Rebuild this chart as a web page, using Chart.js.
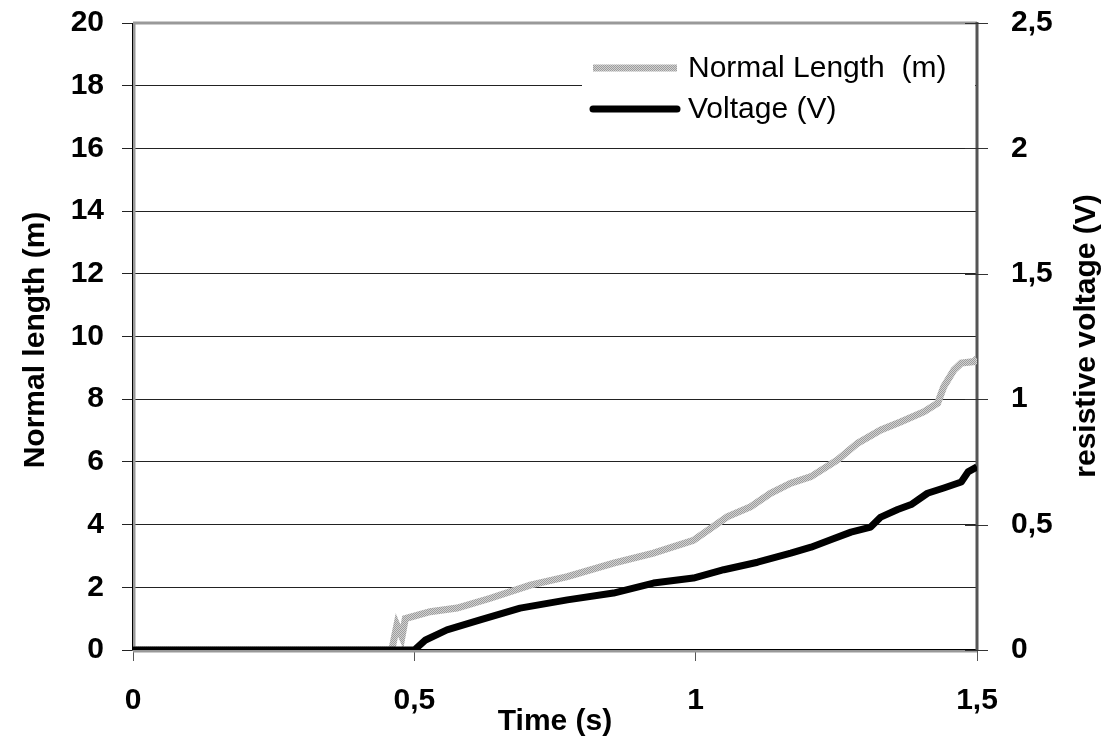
<!DOCTYPE html>
<html lang="en">
<head>
  <meta charset="UTF-8" />
  <title>Normal length and voltage</title>
  <script src="https://cdn.jsdelivr.net/npm/chart.js"></script>
  <style>
    body { margin: 0; background: #fff; }
    canvas { display: block; }
  </style>
</head>
<body>
  <canvas id="lengthChart" width="1104" height="741"></canvas>

  <script>
    // values
    const lengthTime = [0, 0.46, 0.469, 0.478, 0.484, 0.528, 0.576, 0.635, 0.706, 0.772, 0.854, 0.925, 0.996,
                        1.056, 1.098, 1.133, 1.169, 1.205, 1.252, 1.288, 1.329, 1.365, 1.406, 1.43, 1.441, 1.459, 1.472, 1.495, 1.5];
    const normalLength = [0, 0, 0.8, 0.42, 1.0, 1.22, 1.34, 1.65, 2.07, 2.34, 2.77, 3.09, 3.5,
                          4.25, 4.57, 5.0, 5.32, 5.53, 6.06, 6.6, 7.02, 7.28, 7.6, 7.87, 8.4, 8.93, 9.15, 9.2, 9.3];
    const voltageTime = [0, 0.46, 0.5, 0.52, 0.558, 0.617, 0.688, 0.772, 0.854, 0.925, 0.996, 1.05, 1.11,
                         1.169, 1.205, 1.24, 1.276, 1.311, 1.329, 1.359, 1.383, 1.412, 1.441, 1.472, 1.484, 1.5];
    const voltage = [0, 0, 0, 0.04, 0.08, 0.12, 0.167, 0.2, 0.227, 0.267, 0.287, 0.32, 0.35,
                     0.386, 0.41, 0.44, 0.47, 0.49, 0.53, 0.56, 0.58, 0.625, 0.646, 0.67, 0.71, 0.73];
    const timeTicks = [0, 0.5, 1, 1.5];
    const legendLabels = ["Normal Length  (m)", "Voltage (V)"];
    const titles = { x: "Time (s)", y: "Normal length (m)", y1: "resistive voltage (V)" };

    const FONT = "Liberation Sans, Arial, sans-serif";
    const comma = v => String(v).replace(".", ",");

    // dotted grey texture like the original line
    const pc = document.createElement("canvas");
    pc.width = 2; pc.height = 2;
    const pctx = pc.getContext("2d");
    pctx.fillStyle = "#d2d2d2"; pctx.fillRect(0, 0, 2, 2);
    pctx.fillStyle = "#9c9c9c"; pctx.fillRect(0, 0, 1, 1); pctx.fillRect(1, 1, 1, 1);
    const greyPattern = pctx.createPattern(pc, "repeat");

    const extras = {
      id: "extras",
      beforeDatasetsDraw(chart) {
        const { ctx, chartArea: a } = chart;
        ctx.save();
        // plot frame
        ctx.lineWidth = 3; ctx.strokeStyle = "#999";
        ctx.beginPath(); ctx.moveTo(a.left, a.top); ctx.lineTo(a.right, a.top); ctx.stroke();
        ctx.beginPath(); ctx.moveTo(a.left + 1, a.top); ctx.lineTo(a.left + 1, a.bottom + 1); ctx.stroke();
        ctx.beginPath(); ctx.moveTo(a.left, a.bottom + 1); ctx.lineTo(a.right, a.bottom + 1); ctx.stroke();
        ctx.lineWidth = 1; ctx.strokeStyle = "#000";
        ctx.beginPath(); ctx.moveTo(a.left - 0.5, a.top); ctx.lineTo(a.left - 0.5, a.bottom); ctx.stroke();
        ctx.beginPath(); ctx.moveTo(a.left, a.bottom - 0.5); ctx.lineTo(a.right, a.bottom - 0.5); ctx.stroke();
        ctx.lineWidth = 3; ctx.strokeStyle = "#555";
        ctx.beginPath(); ctx.moveTo(a.right, a.top - 1); ctx.lineTo(a.right, a.bottom); ctx.stroke();
        // right axis ticks cross the axis
        const y1 = chart.scales.y1;
        ctx.lineWidth = 1; ctx.strokeStyle = "#333";
        y1.ticks.forEach(t => {
          const y = Math.round(y1.getPixelForValue(t.value)) + 0.5;
          ctx.beginPath(); ctx.moveTo(a.right - 12, y); ctx.lineTo(a.right + 11, y); ctx.stroke();
        });
        ctx.restore();
      },
      afterDraw(chart) {
        const { ctx, chartArea: a } = chart;
        ctx.save();
        ctx.fillStyle = "#000";
        ctx.textAlign = "center";
        ctx.textBaseline = "middle";
        ctx.font = "bold 30px " + FONT;
        ctx.fillText(titles.x, (a.left + a.right) / 2, 722);
        ctx.translate(36, 340); ctx.rotate(-Math.PI / 2);
        ctx.fillText(titles.y, 0, 0);
        ctx.setTransform(1, 0, 0, 1, 0, 0);
        ctx.translate(1087, 336); ctx.rotate(-Math.PI / 2);
        ctx.fillText(titles.y1, 0, 0);
        ctx.setTransform(1, 0, 0, 1, 0, 0);

        // legend
        ctx.fillStyle = "#fff";
        ctx.fillRect(582, 47, a.right - 584, 94);
        const rows = [68, 109];
        const styles = [greyPattern, "#000"];
        rows.forEach((y, i) => {
          ctx.lineWidth = 7;
          ctx.lineCap = i === 1 ? "round" : "butt";
          ctx.strokeStyle = styles[i];
          ctx.beginPath(); ctx.moveTo(593, y); ctx.lineTo(677, y); ctx.stroke();
          ctx.fillStyle = "#000";
          ctx.textAlign = "left";
          ctx.font = "30px " + FONT;
          ctx.fillText(legendLabels[i], 688, y + 1);
        });
        ctx.restore();
      }
    };

    const noPad = s => { s.paddingTop = 0; s.paddingBottom = 0; };

    new Chart(document.getElementById("lengthChart"), {
      type: "line",
      data: {
        datasets: [
          {
            label: legendLabels[1],
            data: voltageTime.map((t, i) => ({ x: t, y: voltage[i] })),
            yAxisID: "y1",
            borderColor: "#000",
            borderWidth: 7,
            pointRadius: 0,
            tension: 0,
            borderJoinStyle: "round"
          },
          {
            label: legendLabels[0],
            data: lengthTime.map((t, i) => ({ x: t, y: normalLength[i] })),
            yAxisID: "y",
            borderColor: greyPattern,
            borderWidth: 7,
            pointRadius: 0,
            tension: 0
          }
        ]
      },
      options: {
        responsive: false,
        animation: false,
        layout: { padding: { top: 23, left: 0, right: 0, bottom: 0 } },
        plugins: { legend: { display: false }, tooltip: { enabled: false } },
        scales: {
          x: {
            type: "linear",
            min: 0, max: 1.5,
            afterFit: s => { s.height = 91; s.paddingLeft = 0; s.paddingRight = 0; },
            afterBuildTicks: s => { s.ticks = timeTicks.map(v => ({ value: v })); },
            grid: { drawOnChartArea: false, tickLength: 11, color: "#555" },
            border: { display: false },
            ticks: {
              padding: 22,
              maxRotation: 0,
              color: "#000",
              font: { family: FONT, size: 30, weight: "bold" },
              callback: v => comma(v)
            }
          },
          y: {
            position: "left",
            min: 0, max: 20,
            afterFit: s => { s.width = 133; noPad(s); },
            grid: { color: "#222", lineWidth: 1, tickLength: 11 },
            border: { display: false },
            ticks: {
              stepSize: 2,
              padding: 18,
              color: "#000",
              font: { family: FONT, size: 30, weight: "bold" }
            }
          },
          y1: {
            position: "right",
            min: 0, max: 2.5,
            afterFit: s => { s.width = 127; noPad(s); },
            grid: { display: false },
            border: { display: false },
            ticks: {
              stepSize: 0.5,
              padding: 26,
              color: "#000",
              font: { family: FONT, size: 30, weight: "bold" },
              callback: v => comma(v)
            }
          }
        }
      },
      plugins: [extras]
    });
  </script>
</body>
</html>
